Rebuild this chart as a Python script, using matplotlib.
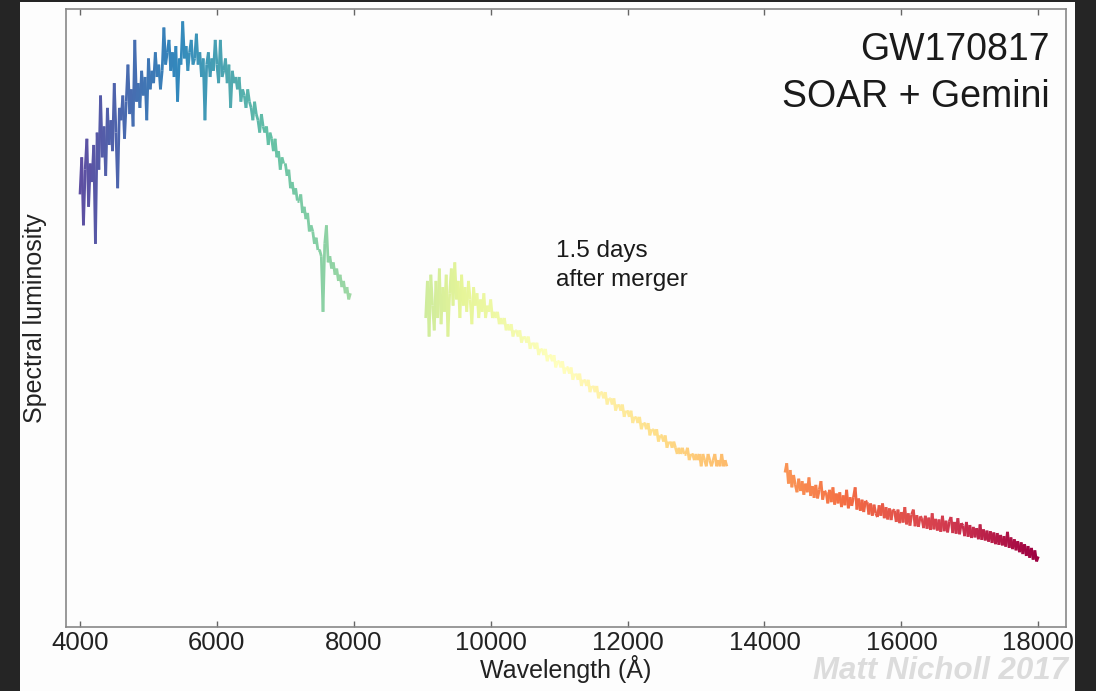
import numpy as np
import matplotlib
matplotlib.use("Agg")
import matplotlib.pyplot as plt
from matplotlib.collections import LineCollection
from matplotlib.patches import Rectangle

plt.rcParams['font.family'] = ['Liberation Sans', 'DejaVu Sans']

# spectrum pieces (arbitrary luminosity units), sampled every 25 A
wave_opt = np.arange(4000, 7951, 25)
lum_opt = [
    70, 76, 65, 74, 79, 68, 75, 72, 78, 62, 80, 74, 86, 76, 81, 73,
    84, 78, 82, 77, 88, 80, 71, 84, 82, 86, 79, 85, 91, 83, 87, 81,
    95, 85, 88, 84, 90, 86, 89, 82, 92, 87, 90, 88, 93, 89, 91, 87,
    90, 97, 91, 93, 95, 90, 93, 89, 94, 85, 92, 91, 98, 92, 94, 90,
    93, 95, 91, 92, 96, 91, 93, 89, 92, 82, 91, 93, 89, 92, 90, 95,
    91, 88, 95, 89, 90, 92, 88, 91, 84, 90, 88, 89, 87, 89, 85, 87,
    86, 84, 87, 85, 84, 82, 85, 83, 82, 80, 83, 81, 80, 81, 78, 80,
    79, 77, 79, 76, 77, 74, 76, 75, 75, 73, 74, 71, 72, 70, 71, 69,
    69, 70, 67, 68, 66, 67, 64, 65, 64, 62, 63, 61, 61, 60, 51, 62,
    65, 59, 60, 58, 59, 57, 58, 56, 57, 55, 56, 54, 55, 53, 54,
]

wave_nir1 = np.arange(9050, 13451, 25)
lum_nir1 = [
    50, 56, 47, 57, 52, 48, 56, 50, 58, 49, 55, 51, 57, 47, 54, 58,
    52, 59, 53, 56, 50, 57, 52, 55, 51, 56, 53, 49, 55, 52, 54, 50,
    53, 51, 54, 50, 52, 51, 53, 50, 51, 50, 51, 49, 50, 49, 50, 48,
    49, 48, 49, 47, 48, 48, 47, 48, 46, 47, 47, 46, 47, 45, 46, 46,
    45, 46, 44, 45, 45, 44, 45, 43, 44, 44, 43, 44, 42, 43, 43, 42,
    43, 41, 42, 42, 41, 42, 40, 41, 41, 40, 41, 39, 40, 40, 39, 40,
    38, 39, 39, 38, 39, 37, 38, 38, 37, 38, 36, 37, 37, 36, 37, 35,
    36, 36, 35, 36, 34, 35, 35, 34, 35, 33, 34, 34, 33, 34, 32, 33,
    33, 32, 33, 31, 32, 32, 31, 32, 30, 31, 31, 30, 31, 29, 30, 30,
    29, 30, 29, 28, 29, 28, 29, 28, 28, 29, 27, 28, 28, 27, 28, 27,
    28, 26, 28, 27, 26, 28, 27, 26, 27, 28, 26, 27, 26, 28, 26, 27,
    26,
]

wave_nir2 = np.arange(14300, 18001, 25)
lum_nir2 = [
    25.0, 26.5, 23.2, 25.4, 22.6, 24.6, 23.0, 21.8,
    24.0, 22.0, 23.6, 21.4, 23.2, 21.8, 24.2, 21.2,
    22.8, 20.9, 23.0, 20.8, 22.2, 23.6, 20.6, 22.0,
    21.8, 20.0, 22.2, 20.2, 22.6, 19.8, 21.6, 20.0,
    21.8, 19.4, 21.3, 19.7, 22.2, 19.2, 21.0, 19.6,
    21.0, 22.6, 19.0, 20.8, 18.8, 20.6, 18.6, 20.4,
    20.2, 18.2, 20.0, 18.0, 19.8, 18.4, 17.8, 19.7,
    18.0, 20.0, 17.6, 19.4, 17.4, 19.2, 17.3, 19.0,
    18.8, 17.0, 19.0, 16.8, 18.6, 16.9, 19.4, 16.6,
    18.4, 16.4, 18.2, 19.0, 16.3, 18.1, 16.2, 17.9,
    17.6, 16.0, 18.0, 15.9, 17.7, 15.7, 18.4, 15.8,
    17.5, 15.6, 17.4, 15.4, 18.0, 15.5, 17.2, 15.3,
    17.1, 17.8, 15.2, 17.0, 15.1, 17.6, 15.0, 16.8,
    16.4, 14.7, 17.0, 14.6, 16.5, 14.4, 16.2, 14.5,
    16.0, 14.2, 16.6, 14.1, 15.8, 14.0, 15.6, 13.8,
    15.5, 13.6, 15.3, 13.4, 15.2, 13.3, 14.9, 13.2,
    14.7, 13.0, 15.4, 12.8, 14.5, 12.6, 14.2, 12.4,
    13.9, 12.1, 13.7, 11.8, 13.4, 11.5, 13.1, 11.2,
    12.8, 10.9, 12.4, 10.6, 11.4,
]

xticks = [4000, 6000, 8000, 10000, 12000, 14000, 16000, 18000]

fig = plt.figure(figsize=(10.96, 6.91), dpi=100, facecolor='#252525')
# white panel of the slide
fig.patches.append(Rectangle((20/1096, 0), 1055/1096, 689/691, transform=fig.transFigure,
                             facecolor='#fdfdfd', edgecolor='none', zorder=-5))

ax = fig.add_axes([66/1096, 1 - 627/691, 1000/1096, 618/691])
ax.set_zorder(2)
ax.set_facecolor('#fdfdfd')

norm = plt.Normalize(4000, 18000)
cmap = plt.get_cmap('Spectral_r')
for w, l in [(wave_opt, lum_opt), (wave_nir1, lum_nir1), (wave_nir2, lum_nir2)]:
    pts = np.column_stack([w, np.array(l, dtype=float)]).reshape(-1, 1, 2)
    segs = np.concatenate([pts[:-1], pts[1:]], axis=1)
    lc = LineCollection(segs, cmap=cmap, norm=norm, linewidth=2.0)
    lc.set_array(0.5 * (w[:-1] + w[1:]))
    ax.add_collection(lc)

ax.set_xlim(3795, 18405)
ax.set_ylim(0, 100)
ax.set_xticks(xticks)
ax.set_xticklabels([str(t) for t in xticks], fontsize=18.5, color='#222222')
ax.set_yticks([])
ax.tick_params(axis='x', direction='in', top=True, length=4, width=1, color='#666666', pad=3)
for s in ax.spines.values():
    s.set_color('#888888')
    s.set_linewidth(1.2)

ax.set_xlabel('Wavelength (Å)', fontsize=18, color='#222222', labelpad=0)
ax.set_ylabel('Spectral luminosity', fontsize=18, color='#222222', labelpad=14)

ax.text(0.984, 0.963, 'GW170817\nSOAR + Gemini', transform=ax.transAxes, ha='right', va='top',
        fontsize=27, color='#1a1a1a', linespacing=1.4)
ax.text(10950, 58.5, '1.5 days\nafter merger', ha='left', va='center', fontsize=17.5,
        color='#1a1a1a', linespacing=1.4)

fig.text(1068/1096, 1 - 671/691, 'Matt Nicholl 2017', ha='right', va='center', fontsize=22.5,
         fontweight='bold', fontstyle='italic', color='#dcdcdc')

fig.savefig('out.png', dpi=100, facecolor=fig.get_facecolor())
